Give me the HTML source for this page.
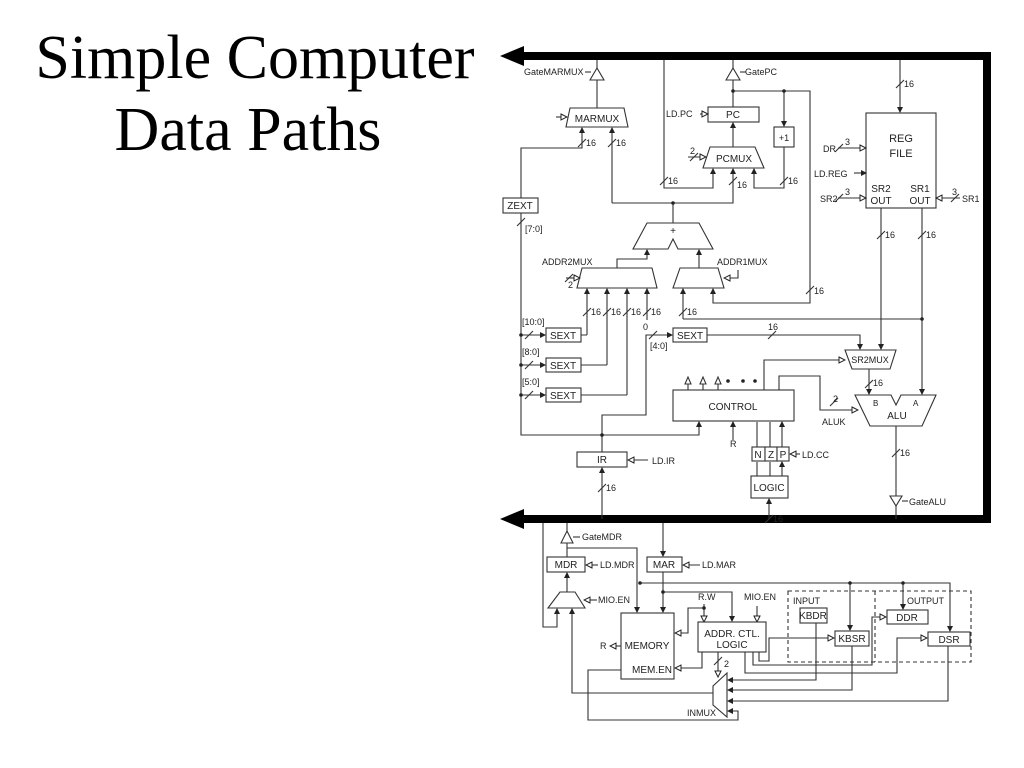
<!DOCTYPE html>
<html><head><meta charset="utf-8"><style>
body{margin:0;background:#fff;width:1024px;height:768px;overflow:hidden}
svg{position:absolute;left:0;top:0}
.t{font-family:"Liberation Sans",sans-serif;font-size:9px;fill:#222}
.b{font-family:"Liberation Sans",sans-serif;font-size:10px;fill:#222}
.ti{font-family:"Liberation Serif",serif;font-size:62px;fill:#000}
</style></head><body>
<svg width="1024" height="768" viewBox="0 0 1024 768">
<defs>
<marker id="a" markerWidth="6" markerHeight="6" refX="5" refY="3" orient="auto" markerUnits="userSpaceOnUse"><path d="M0,0L6,3L0,6z" fill="#222"/></marker>
<marker id="o" markerWidth="8" markerHeight="8" refX="7" refY="4" orient="auto" markerUnits="userSpaceOnUse"><path d="M1,1L7,4L1,7z" fill="#fff" stroke="#222" stroke-width="1"/></marker>
</defs>
<text class="ti" x="255" y="78" text-anchor="middle">Simple Computer</text>
<text class="ti" x="248" y="150" text-anchor="middle">Data Paths</text>

<!-- bus -->
<path d="M520,56H987V519H520" fill="none" stroke="#000" stroke-width="8"/>
<path d="M500,56L524,46V66z M500,519L524,509V529z" fill="#000"/>

<g fill="none" stroke="#333" stroke-width="1.1">
<!-- MARMUX -->
<path d="M597,60V108"/>
<path d="M590,80L597,68L604,80z" fill="#fff"/>
<path d="M585,72H591"/>
<path d="M570,108H624L628,127H566z" fill="#fff"/>
<path d="M556,117H567" marker-end="url(#o)"/>
<path d="M521,198V148H582V128" marker-end="url(#a)"/>
<path d="M612,203V128" marker-end="url(#a)"/>
<path d="M612,203H733V169" marker-end="url(#a)"/>
<!-- ZEXT -->
<rect x="503" y="198" width="35" height="15" fill="#fff"/>
<path d="M521,213V435H699V422" marker-end="url(#a)"/>
<!-- adder -->
<path d="M673,203V223"/>
<path d="M647,223H699L713,249H678L673,239L668,249H633z" fill="#fff"/>
<path d="M617,268V259H647V250" marker-end="url(#a)"/>
<path d="M699,268V250" marker-end="url(#a)"/>
<!-- PC -->
<rect x="708" y="107" width="51" height="15" fill="#fff"/>
<path d="M733,60V107"/>
<path d="M726,80L733,68L740,80z" fill="#fff"/>
<path d="M740,72H746"/>
<path d="M733,91H810V303H713V289" marker-end="url(#a)"/>
<path d="M784,91V126" marker-end="url(#a)"/>
<rect x="774" y="127" width="20" height="20" fill="#fff"/>
<path d="M784,147V188H754V169" marker-end="url(#a)"/>
<path d="M733,147V123" marker-end="url(#a)"/>
<path d="M710,147H755L764,168H703z" fill="#fff"/>
<path d="M688,157H706" marker-end="url(#o)"/>
<path d="M700,114H708" marker-end="url(#o)"/>
<path d="M664,60V188H713V169" marker-end="url(#a)"/>
<!-- REG FILE -->
<path d="M900,60V112" marker-end="url(#a)"/>
<rect x="866" y="113" width="70" height="95" fill="#fff"/>
<path d="M838,148H866" marker-end="url(#o)"/>
<path d="M854,173H866" marker-end="url(#a)"/>
<path d="M838,198H866" marker-end="url(#o)"/>
<path d="M960,198H936" marker-end="url(#o)"/>
<path d="M881,208V349" marker-end="url(#a)"/>
<path d="M922,208V394" marker-end="url(#a)"/>
<!-- ADDR muxes -->
<path d="M582,268H652L657,288H577z" fill="#fff"/>
<path d="M680,268H718L724,288H673z" fill="#fff"/>
<path d="M566,278H580" marker-end="url(#o)"/>
<path d="M738,270V278H724" marker-end="url(#o)"/>
<path d="M587,335V289" marker-end="url(#a)"/>
<path d="M607,365V289" marker-end="url(#a)"/>
<path d="M627,395V289" marker-end="url(#a)"/>
<path d="M647,320V289" marker-end="url(#a)"/>
<path d="M683,319V289" marker-end="url(#a)"/>
<path d="M683,319H922"/>
<!-- SEXTs -->
<rect x="546" y="328" width="35" height="14" fill="#fff"/>
<rect x="546" y="358" width="35" height="14" fill="#fff"/>
<rect x="546" y="388" width="35" height="14" fill="#fff"/>
<path d="M581,335H587 M581,365H607 M581,395H627"/>
<path d="M521,335H545" marker-end="url(#a)"/>
<path d="M521,365H545" marker-end="url(#a)"/>
<path d="M521,395H545" marker-end="url(#a)"/>
<rect x="673" y="328" width="34" height="14" fill="#fff"/>
<path d="M602,452V415H646V335H672" marker-end="url(#a)"/>
<path d="M707,335H860V349" marker-end="url(#a)"/>
<!-- SR2MUX -->
<path d="M845,350H896L890,369H852z" fill="#fff"/>
<path d="M764,390V360H845" marker-end="url(#o)"/>
<path d="M869,369V394" marker-end="url(#a)"/>
<!-- CONTROL -->
<rect x="673" y="390" width="121" height="31" fill="#fff"/>
<path d="M688,390V381 M703,390V381 M718,390V381"/>
<path d="M685,384L688,377L691,384z M700,384L703,377L706,384z M715,384L718,377L721,384z" fill="#fff"/>
<path d="M779,390V376H820V410H858" marker-end="url(#o)"/>
<!-- ALU -->
<path d="M855,395H891L896,405L901,395H936L922,426H870z" fill="#fff"/>
<path d="M896,426V519"/>
<path d="M890,496H902L896,506z" fill="#fff"/>
<path d="M902,501H908"/>
<path d="M733,440V422" marker-end="url(#a)"/>
<rect x="752" y="447" width="13" height="14" fill="#fff"/>
<rect x="765" y="447" width="12" height="14" fill="#fff"/>
<rect x="777" y="447" width="12" height="14" fill="#fff"/>
<path d="M757,447V422 M770,447V422 M782,447V422" marker-end="url(#a)"/>
<path d="M800,454H790" marker-end="url(#o)"/>
<rect x="751" y="476" width="37" height="22" fill="#fff"/>
<path d="M757,476V462 M770,476V462 M782,476V462" marker-end="url(#a)"/>
<path d="M769,519V499" marker-end="url(#a)"/>
<!-- IR -->
<rect x="577" y="452" width="50" height="15" fill="#fff"/>
<path d="M602,519V468" marker-end="url(#a)"/>
<path d="M648,460H628" marker-end="url(#o)"/>

<!-- bottom -->
<path d="M543,523V627H557V609" marker-end="url(#a)"/>
<path d="M567,523V557"/>
<path d="M561,543L567,531L573,543z" fill="#fff"/>
<path d="M573,537H580"/>
<path d="M567,548H637V612" marker-end="url(#a)"/>
<rect x="547" y="557" width="38" height="15" fill="#fff"/>
<path d="M598,565H586" marker-end="url(#o)"/>
<path d="M567,592V573" marker-end="url(#a)"/>
<path d="M560,592H575L585,608H548z" fill="#fff"/>
<path d="M597,600H584" marker-end="url(#o)"/>
<path d="M663,523V556" marker-end="url(#a)"/>
<rect x="647" y="557" width="35" height="15" fill="#fff"/>
<path d="M700,565H683" marker-end="url(#o)"/>
<path d="M663,572V612" marker-end="url(#a)"/>
<path d="M663,592H732V621" marker-end="url(#a)"/>
<path d="M640,583H950V631" marker-end="url(#a)"/>
<path d="M850,583V630" marker-end="url(#a)"/>
<path d="M903,583V609" marker-end="url(#a)"/>
<rect x="621" y="613" width="53" height="66" fill="#fff"/>
<path d="M621,646H610" marker-end="url(#o)"/>
<path d="M704,604V622" marker-end="url(#o)"/>
<path d="M704,608H688V633H675" marker-end="url(#o)"/>
<path d="M757,606V622" marker-end="url(#o)"/>
<rect x="698" y="622" width="68" height="30" fill="#fff"/>
<path d="M702,652V668H675" marker-end="url(#o)"/>
<path d="M718,652V677" marker-end="url(#o)"/>
<path d="M727,673V717L713,705V686z" fill="#fff"/>
<path d="M713,693H572V609" marker-end="url(#a)"/>
<path d="M745,652V673H897V638H927" marker-end="url(#o)"/>
<path d="M753,652V665H872V617H886" marker-end="url(#o)"/>
<path d="M759,652V661H769V638H834" marker-end="url(#o)"/>
<rect x="800" y="608" width="27" height="15" fill="#fff"/>
<path d="M816,623V680H728" marker-end="url(#a)"/>
<rect x="835" y="631" width="34" height="15" fill="#fff"/>
<path d="M852,646V690H728" marker-end="url(#a)"/>
<rect x="887" y="610" width="41" height="14" fill="#fff"/>
<rect x="928" y="632" width="42" height="14" fill="#fff"/>
<path d="M948,646V701H728" marker-end="url(#a)"/>
<path d="M621,670H588V720H738V711H728" marker-end="url(#a)"/>
<path d="M788,591H971V662H788z M875,591V662" stroke-dasharray="4,3"/>

<!-- slashes -->
<path d="M578,147L586,139 M608,147L616,139 M660,185L668,177 M729,185L737,177 M780,185L788,177 M896,88L904,80 M877,239L885,231 M918,239L926,231 M806,294L814,286 M583,316L591,308 M603,316L611,308 M623,316L631,308 M643,316L651,308 M679,316L687,308 M768,339L776,331 M892,457L900,449 M865,388L873,380 M598,492L606,484 M765,523L773,515 M835,152L843,144 M835,202L843,194 M951,202L959,194 M690,161L698,153 M565,282L573,274 M525,339L533,331 M525,369L533,361 M525,399L533,391 M649,339L657,331 M517,226L525,218 M830,406L838,398 M714,665L722,657"/>
</g>

<g class="t">
<text x="524" y="75">GateMARMUX</text>
<text x="745" y="75">GatePC</text>
<text x="666" y="117">LD.PC</text>
<text x="784" y="141" text-anchor="middle">+1</text>
<text x="586" y="146">16</text><text x="616" y="146">16</text>
<text x="668" y="184">16</text><text x="737" y="188">16</text><text x="788" y="184">16</text>
<text x="904" y="87">16</text>
<text x="885" y="238">16</text><text x="926" y="238">16</text>
<text x="814" y="294">16</text>
<text x="591" y="315">16</text><text x="611" y="315">16</text><text x="631" y="315">16</text><text x="651" y="315">16</text><text x="687" y="315">16</text>
<text x="768" y="330">16</text>
<text x="873" y="386">16</text>
<text x="900" y="456">16</text>
<text x="606" y="491">16</text>
<text x="773" y="522">16</text>
<text x="525" y="232">[7:0]</text>
<text x="542" y="265">ADDR2MUX</text>
<text x="717" y="265">ADDR1MUX</text>
<text x="568" y="288">2</text>
<text x="690" y="154">2</text>
<text x="522" y="325">[10:0]</text>
<text x="522" y="355">[8:0]</text>
<text x="522" y="385">[5:0]</text>
<text x="643" y="330">0</text>
<text x="650" y="349">[4:0]</text>
<text x="823" y="152">DR</text><text x="845" y="145">3</text>
<text x="814" y="177">LD.REG</text>
<text x="820" y="202">SR2</text><text x="845" y="195">3</text>
<text x="952" y="195">3</text><text x="962" y="202">SR1</text>
<text x="833" y="402">2</text>
<text x="822" y="425">ALUK</text>
<text x="873" y="406" font-size="8">B</text>
<text x="913" y="406" font-size="8">A</text>
<text x="730" y="447">R</text>
<text x="802" y="458">LD.CC</text>
<text x="652" y="464">LD.IR</text>
<text x="909" y="505">GateALU</text>
<text x="582" y="540">GateMDR</text>
<text x="600" y="568">LD.MDR</text>
<text x="702" y="568">LD.MAR</text>
<text x="598" y="603">MIO.EN</text>
<text x="698" y="600">R.W</text>
<text x="744" y="600">MIO.EN</text>
<text x="600" y="649">R</text>
<text x="724" y="667">2</text>
<text x="793" y="604">INPUT</text>
<text x="907" y="604">OUTPUT</text>
<text x="687" y="716">INMUX</text>
</g>
<g class="b" text-anchor="middle">
<text x="597" y="122">MARMUX</text>
<text x="733" y="118">PC</text>
<text x="734" y="162">PCMUX</text>
<text x="673" y="234">+</text>
<text x="520" y="209">ZEXT</text>
<text x="563" y="339">SEXT</text><text x="563" y="369">SEXT</text><text x="563" y="399">SEXT</text>
<text x="690" y="339">SEXT</text>
<text x="901" y="142" font-size="11">REG</text><text x="901" y="157" font-size="11">FILE</text>
<text x="881" y="192">SR2</text><text x="881" y="204">OUT</text>
<text x="920" y="192">SR1</text><text x="920" y="204">OUT</text>
<text x="870" y="363" font-size="9">SR2MUX</text>
<text x="733" y="410">CONTROL</text>
<text x="897" y="419">ALU</text>
<text x="758" y="458">N</text><text x="771" y="458">Z</text><text x="783" y="458">P</text>
<text x="769" y="491">LOGIC</text>
<text x="602" y="463">IR</text>
<text x="566" y="568">MDR</text>
<text x="664" y="568">MAR</text>
<text x="647" y="649">MEMORY</text>
<text x="652" y="673">MEM.EN</text>
<text x="732" y="637">ADDR. CTL.</text>
<text x="732" y="648">LOGIC</text>
<text x="813" y="619">KBDR</text>
<text x="852" y="642">KBSR</text>
<text x="907" y="621">DDR</text>
<text x="949" y="643">DSR</text>
</g>
<g fill="#222">
<circle cx="673" cy="203" r="1.8"/><circle cx="733" cy="91" r="1.8"/><circle cx="784" cy="91" r="1.8"/>
<circle cx="922" cy="319" r="1.8"/><circle cx="521" cy="335" r="1.8"/><circle cx="521" cy="365" r="1.8"/><circle cx="521" cy="395" r="1.8"/>
<circle cx="602" cy="435" r="1.8"/><circle cx="728" cy="381" r="1.8"/><circle cx="743" cy="381" r="1.8"/><circle cx="755" cy="381" r="1.8"/>
<circle cx="663" cy="592" r="1.8"/><circle cx="640" cy="583" r="1.8"/><circle cx="850" cy="583" r="1.8"/><circle cx="903" cy="583" r="1.8"/><circle cx="704" cy="608" r="1.8"/>
</g>
</svg>
</body></html>
